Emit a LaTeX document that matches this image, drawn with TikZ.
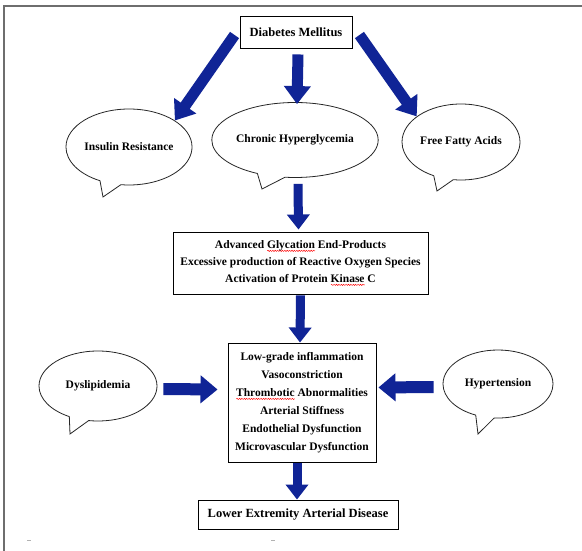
\documentclass[tikz,border=0pt]{standalone}
\usepackage{fontspec}
\setmainfont{Liberation Serif}
\usetikzlibrary{arrows.meta,shapes.geometric,shapes.callouts,decorations.pathmorphing}
\definecolor{arrowblue}{RGB}{16,36,150}
\definecolor{framegray}{RGB}{110,110,110}
\newsavebox\wavebox
\newlength\wavelen
\newcommand\rwave[1]{\sbox\wavebox{#1}\setlength\wavelen{\wd\wavebox}\rlap{\tikz[baseline=0pt,x=1pt,y=1pt]{\draw[red, line width=0.45pt, decorate, decoration={snake, amplitude=0.6pt, segment length=2.4pt}] (0pt,-2.6pt) -- (\wavelen,-2.6pt);}}\usebox\wavebox}
\newcommand\txtfont{\fontsize{11.5}{18}\selectfont\bfseries}
\newcommand\txtfontb{\fontsize{11.5}{17}\selectfont\bfseries}
\begin{document}
\begin{tikzpicture}[x=1pt,y=-1pt,
  boxnode/.style={draw=black, line width=0.9pt, fill=white, font=\txtfont, align=center, inner sep=0pt},
  bubble/.style={ellipse callout, draw=black!85, line width=0.8pt, fill=white, font=\txtfont, inner sep=0pt, callout pointer arc=20},
  barrow/.style={draw=arrowblue, line width=11pt, -{Triangle[width=26pt,length=18pt]}},
  varrow/.style={draw=arrowblue, line width=9pt, -{Triangle[width=22pt,length=15pt]}},
  harrow/.style={draw=arrowblue, line width=12pt, -{Triangle[width=27pt,length=17pt]}}]
\useasboundingbox (0,0) rectangle (582,551);
\fill[white] (0,0) rectangle (582,551);
% frame
\draw[framegray, line width=1.3pt] (4,551) -- (4,6) -- (582,6);
\draw[gray!60, line width=0.6pt] (27,540) -- (31,540) (271,540) -- (275,540);

% nodes
\node[boxnode, font=\fontsize{12.5}{15}\selectfont\bfseries, minimum width=112, minimum height=32] (dm) at (296,32) {Diabetes Mellitus};
\node[bubble, minimum width=118, minimum height=76, callout absolute pointer={(103,197)}] (ir) at (129,147) {Insulin Resistance};
\node[bubble, minimum width=156, minimum height=75, callout absolute pointer={(262,189)}] (ch) at (295,140) {Chronic Hyperglycemia};
\node[bubble, minimum width=118, minimum height=76, callout absolute pointer={(437,191)}] (ff) at (461,142) {Free Fatty Acids};
\node[boxnode, font=\txtfontb, minimum width=255, minimum height=62] (age) at (300.5,263)
  {Advanced \rwave{Glycation} End-Products\\Excessive production of Reactive Oxygen Species\\Activation of Protein \rwave{Kinase} C};
\node[boxnode, minimum width=148, minimum height=119] (mid) at (302,402.5)
  {Low-grade inflammation\\Vasoconstriction\\\rwave{Thrombotic} Abnormalities\\Arterial Stiffness\\Endothelial Dysfunction\\Microvascular Dysfunction};
\node[bubble, minimum width=118, minimum height=70, callout absolute pointer={(70,434)}] (dys) at (98,386) {Dyslipidemia};
\node[bubble, minimum width=110, minimum height=68, callout absolute pointer={(478,434)}] (hyp) at (498,384) {Hypertension};
\node[boxnode, font=\fontsize{12.5}{15}\selectfont\bfseries, minimum width=200, minimum height=29] (lead) at (298,514.5) {Lower Extremity Arterial Disease};

% arrows
\draw[barrow] ([shift={(-5,3)}]dm.west) -- (ir.30);
\draw[barrow] ([shift={(2,6)}]dm.south) -- ([shift={(2,2)}]ch.north);
\draw[barrow] ([shift={(7,3)}]dm.east) -- (ff.150);
\draw[varrow] ([shift={(3,6)}]ch.south) -- ([shift={(-2,-2)}]age.north);
\draw[varrow] ([shift={(0,1)}]age.south) -- ([shift={(-2,0)}]mid.north);
\draw[harrow] ([shift={(6,3)}]dys.east) -- ([shift={(-10,-13)}]mid.west);
\draw[harrow] ([shift={(-9,3)}]hyp.west) -- ([shift={(2,-15)}]mid.east);
\draw[varrow] ([shift={(-5,1)}]mid.south) -- ([shift={(-1,0)}]lead.north);
\end{tikzpicture}
\end{document}
